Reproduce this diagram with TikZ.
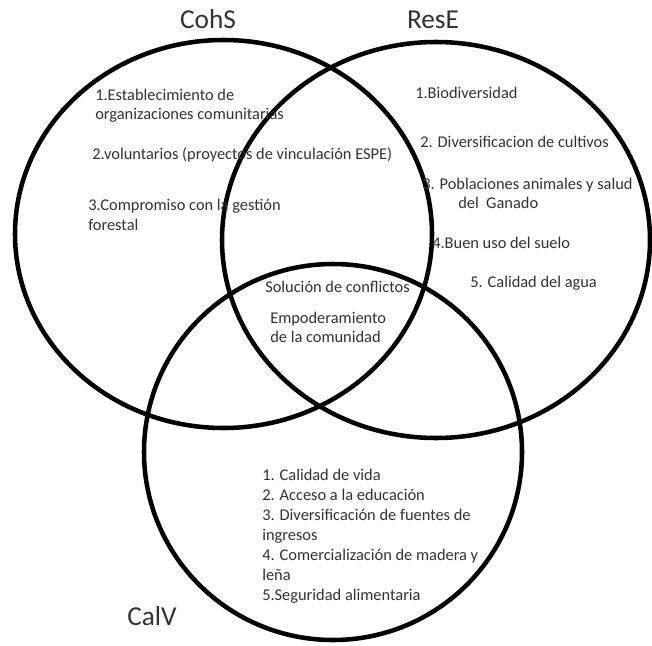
\documentclass[tikz,border=0pt]{standalone}
\usepackage{fontspec}
\setmainfont{Carlito}
\definecolor{txt}{RGB}{50,50,50}
\begin{document}
\begin{tikzpicture}[x=0.75pt,y=-0.75pt,
  ring/.style={line width=3.4pt, draw=black},
  item/.style={anchor=base west, inner sep=0pt, text=txt, font=\fontsize{12.3pt}{15pt}\selectfont},
  settitle/.style={anchor=base, inner sep=0pt, text=txt, font=\fontsize{20.5pt}{24pt}\selectfont}]
\useasboundingbox (0,0) rectangle (652,645);
% circles
\draw[ring] (223.5,234) ellipse [x radius=208.5, y radius=194];
\draw[ring] (436,240) ellipse [x radius=214, y radius=198];
\draw[ring] (333,452) ellipse [x radius=189, y radius=188];
% set titles
\node[settitle] (cohs) at (208,29) {CohS};
\node[settitle] (rese) at (433,29) {ResE};
\node[settitle] (calv) at (152,625) {CalV};
% CohS items
\node[item] (c1a) at (95,101) {1.Establecimiento de};
\node[item] (c1b) at (95,120) {organizaciones comunitarias};
\node[item] (c2) at (92,160) {2.voluntarios (proyectos de vinculación ESPE)};
\node[item] (c3a) at (88,210) {3.Compromiso con la gestión};
\node[item] (c3b) at (88,230) {forestal};
% ResE items
\node[item] (r1) at (415,99) {1.Biodiversidad};
\node[item] (r2) at (420,148) {2. Diversificacion de cultivos};
\node[item] (r3a) at (422,190) {3. Poblaciones animales y salud};
\node[item] (r3b) at (458,209) {del\ \ Ganado};
\node[item] (r4) at (432,248) {4.Buen uso del suelo};
\node[item] (r5) at (470,287) {5. Calidad del agua};
% centre
\node[item] (m1) at (265,292) {Solución de conflictos};
\node[item] (m2a) at (270,323) {Empoderamiento};
\node[item] (m2b) at (270,342) {de la comunidad};
% CalV items
\node[item] (v1) at (262,480) {1. Calidad de vida};
\node[item] (v2) at (262,500) {2. Acceso a la educación};
\node[item] (v3a) at (262,520) {3. Diversificación de fuentes de};
\node[item] (v3b) at (262,540) {ingresos};
\node[item] (v4a) at (262,560) {4. Comercialización de madera y};
\node[item] (v4b) at (262,580) {leña};
\node[item] (v5) at (262,600) {5.Seguridad alimentaria};
\end{tikzpicture}
\end{document}
